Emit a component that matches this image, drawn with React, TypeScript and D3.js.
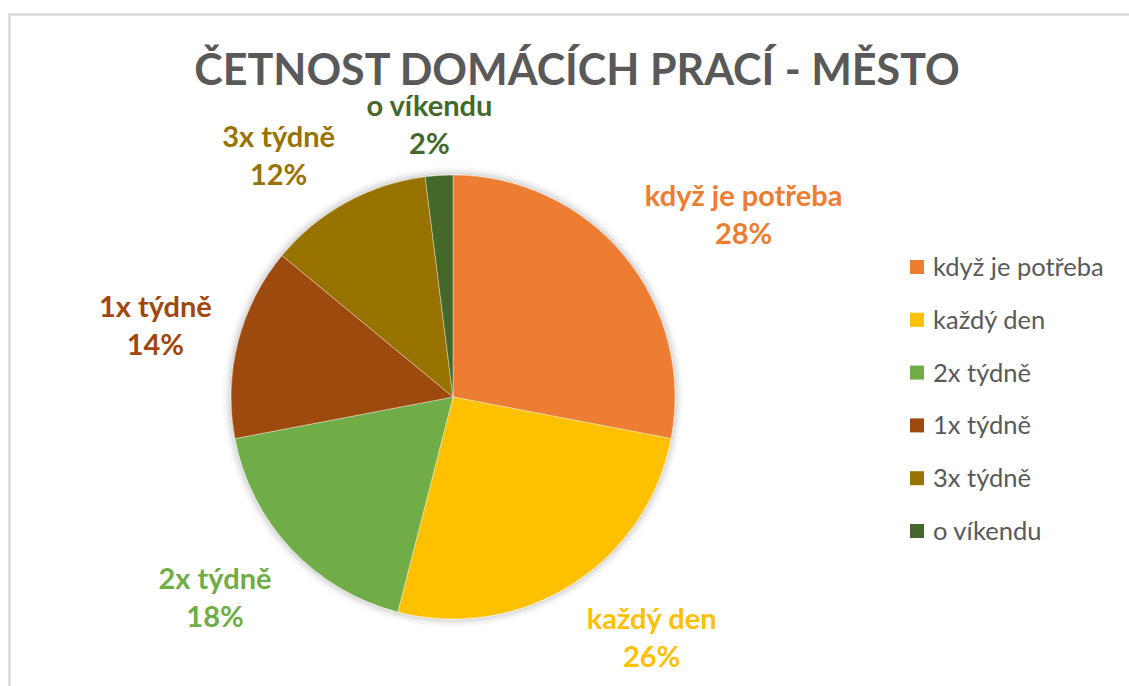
import {arc, pie, PieArcDatum, scalePoint} from "d3";

const categories = ["když je potřeba", "každý den", "2x týdně", "1x týdně", "3x týdně", "o víkendu"];
const shares = [28, 26, 18, 14, 12, 2]; // percent
const sliceColors = ["#ED7D31", "#FFC000", "#70AD47", "#9E480E", "#997300", "#43682B"];
const title = "ČETNOST DOMÁCÍCH PRACÍ - MĚSTO";

const WIDTH = 1129;
const HEIGHT = 686;
const FONT = "Lato, 'Open Sans', sans-serif";
const LABEL_SIZE = 29;
const LINE_GAP = 38;

let ctx: CanvasRenderingContext2D | null = null;
function textWidth(text: string, font: string) {
    if (!ctx) ctx = document.createElement("canvas").getContext("2d");
    if (!ctx) return text.length * 12;
    ctx.font = font;
    return ctx.measureText(text).width;
}

// pushes the label box off the pie edge, less so when the slice points straight up/down/sideways
const push = (v: number) => Math.sign(v) * Math.min(1, Math.abs(v) * 2);

export default function App() {
    const cx = 453;
    const cy = 397;
    const radius = 222;
    const gap = 27;

    const slices = pie<number>().sort(null).value(d => d)(shares);
    const sliceArc = arc<PieArcDatum<number>>().innerRadius(0).outerRadius(radius);

    const labelFont = `bold ${LABEL_SIZE}px ${FONT}`;
    const labels = slices.map((s, i) => {
        const a = (s.startAngle + s.endAngle) / 2;
        const sin = Math.sin(a);
        const cos = Math.cos(a);
        const pct = `${shares[i]}%`;
        const w = Math.max(textWidth(categories[i], labelFont), textWidth(pct, labelFont));
        const bx = cx + (radius + gap) * sin + (w / 2) * push(sin);
        const by = cy - (radius + gap) * cos - 27 * push(cos);
        return {x: bx, y1: by - 5, y2: by - 5 + LINE_GAP, name: categories[i], pct, color: sliceColors[i]};
    });

    const legendY = scalePoint<string>().domain(categories).range([267, 531]);

    return (
        <svg width={WIDTH} height={HEIGHT} style={{position: "absolute", left: 0, top: 0, background: "#fff"}}>
            <defs>
                <filter id="pieShadow" x="-20%" y="-20%" width="140%" height="140%">
                    <feGaussianBlur in="SourceAlpha" stdDeviation="5"/>
                    <feComponentTransfer>
                        <feFuncA type="linear" slope="0.35"/>
                    </feComponentTransfer>
                    <feMerge>
                        <feMergeNode/>
                        <feMergeNode in="SourceGraphic"/>
                    </feMerge>
                </filter>
            </defs>
            <rect x={9.5} y={14.5} width={1300} height={900} fill="#fff" stroke="#d9d9d9" strokeWidth={2.5}/>
            <text x={577} y={85} textAnchor="middle" fontFamily={FONT} fontWeight="bold" fontSize={43}
                  fill="#595959">{title}</text>
            <g transform={`translate(${cx},${cy})`} filter="url(#pieShadow)">
                {slices.map((s, i) => (
                    <path key={categories[i]} d={sliceArc(s) ?? ""} fill={sliceColors[i]}
                          stroke="#ffffff" strokeOpacity={0.5} strokeWidth={0.75}/>
                ))}
            </g>
            <g fontFamily={FONT} fontWeight="bold" fontSize={LABEL_SIZE} textAnchor="middle">
                {labels.map(l => (
                    <g key={l.name} fill={l.color}>
                        <text x={l.x} y={l.y1}>{l.name}</text>
                        <text x={l.x} y={l.y2}>{l.pct}</text>
                    </g>
                ))}
            </g>
            <g fontFamily={FONT} fontSize={25.5} fill="#595959">
                {categories.map((c, i) => {
                    const y = legendY(c) ?? 0;
                    return (
                        <g key={c}>
                            <rect x={910} y={y - 7} width={14} height={14} fill={sliceColors[i]}/>
                            <text x={933} y={y} dy="0.35em">{c}</text>
                        </g>
                    );
                })}
            </g>
        </svg>
    );
}
